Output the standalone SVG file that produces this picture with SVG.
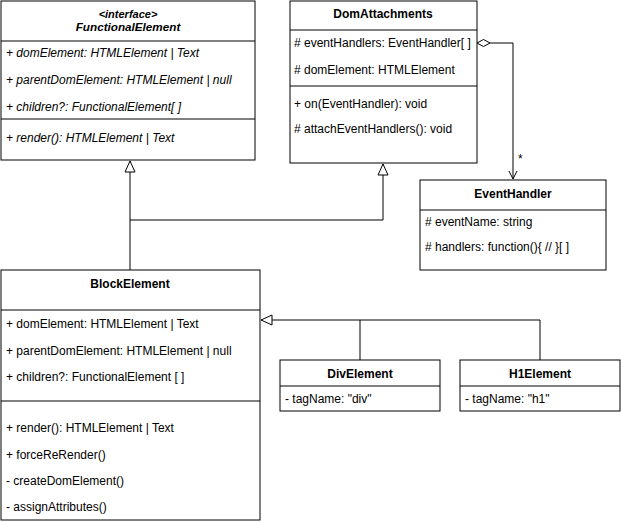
<svg xmlns="http://www.w3.org/2000/svg" width="621" height="522" viewBox="0 0 621 522">
<defs>
<style>
.box{fill:#fff;stroke:#000;stroke-width:1}
.ln{fill:none;stroke:#000;stroke-width:1}
text{font-family:"Liberation Sans",Arial,sans-serif;font-size:12px;fill:#000}
.t{font-weight:bold;text-anchor:middle}
.i{font-style:italic}
</style>
<marker id="tri" markerWidth="14" markerHeight="12" refX="12" refY="6" orient="auto" markerUnits="userSpaceOnUse">
<path d="M1,1 L12,6 L1,11 Z" fill="#fff" stroke="#000"/>
</marker>
</defs>

<g id="connectors">
<path class="ln" d="M130,270 V161" marker-end="url(#tri)"/>
<path class="ln" d="M130,220 H383 V164" marker-end="url(#tri)"/>
<path class="ln" d="M360,360 V320 H261" marker-end="url(#tri)"/>
<path class="ln" d="M540,360 V320 H360"/>
<path class="ln" d="M513,43 H490"/>
<path class="ln" d="M477,43 L483.5,39.5 L490,43 L483.5,46.5 Z" fill="#fff"/>
<path class="ln" d="M513,43 V179"/>
<path class="ln" d="M509,171 L513,179 L517,171"/>
<text x="518" y="163" font-size="10">*</text>
</g>

<g id="FunctionalElement">
<rect class="box" x="1" y="1" width="254" height="159"/>
<line class="ln" x1="1" y1="41" x2="255" y2="41"/>
<line class="ln" x1="1" y1="119" x2="255" y2="119"/>
<text class="i" x="128" y="18" text-anchor="middle" font-weight="bold" style="font-size:11px">&lt;interface&gt;</text>
<text class="t i" x="128" y="31" style="font-size:11.7px">FunctionalElement</text>
<text class="i" x="6" y="57">+ domElement: HTMLElement | Text</text>
<text class="i" x="6" y="84">+ parentDomElement: HTMLElement | null</text>
<text class="i" x="6" y="111">+ children?: FunctionalElement[ ]</text>
<text class="i" x="6" y="142">+ render(): HTMLElement | Text</text>
</g>

<g id="DomAttachments">
<rect class="box" x="290" y="1" width="187" height="162"/>
<line class="ln" x1="290" y1="30" x2="477" y2="30"/>
<line class="ln" x1="290" y1="86" x2="477" y2="86"/>
<text class="t" x="383" y="18">DomAttachments</text>
<text x="294" y="47"># eventHandlers: EventHandler[ ]</text>
<text x="294" y="74"># domElement: HTMLElement</text>
<text x="294" y="108">+ on(EventHandler): void</text>
<text x="294" y="133"># attachEventHandlers(): void</text>
</g>

<g id="EventHandler">
<rect class="box" x="420" y="180" width="186" height="90"/>
<line class="ln" x1="420" y1="210" x2="606" y2="210"/>
<text class="t" x="513" y="198">EventHandler</text>
<text x="425" y="226"># eventName: string</text>
<text x="425" y="251"># handlers: function(){ // }[ ]</text>
</g>

<g id="BlockElement">
<rect class="box" x="1" y="270" width="259" height="250"/>
<line class="ln" x1="1" y1="310" x2="260" y2="310"/>
<line class="ln" x1="1" y1="401" x2="260" y2="401"/>
<text class="t" x="130" y="288">BlockElement</text>
<text x="6" y="328">+ domElement: HTMLElement | Text</text>
<text x="6" y="355">+ parentDomElement: HTMLElement | null</text>
<text x="6" y="381">+ children?: FunctionalElement [ ]</text>
<text x="6" y="432">+ render(): HTMLElement | Text</text>
<text x="6" y="459">+ forceReRender()</text>
<text x="6" y="485">- createDomElement()</text>
<text x="6" y="511">- assignAttributes()</text>
</g>

<g id="DivElement">
<rect class="box" x="280" y="360" width="160" height="51"/>
<line class="ln" x1="280" y1="386" x2="440" y2="386"/>
<text class="t" x="360" y="378">DivElement</text>
<text x="285" y="403">- tagName: "div"</text>
</g>

<g id="H1Element">
<rect class="box" x="460" y="360" width="160" height="51"/>
<line class="ln" x1="460" y1="386" x2="620" y2="386"/>
<text class="t" x="540" y="378">H1Element</text>
<text x="465" y="403">- tagName: "h1"</text>
</g>
</svg>
